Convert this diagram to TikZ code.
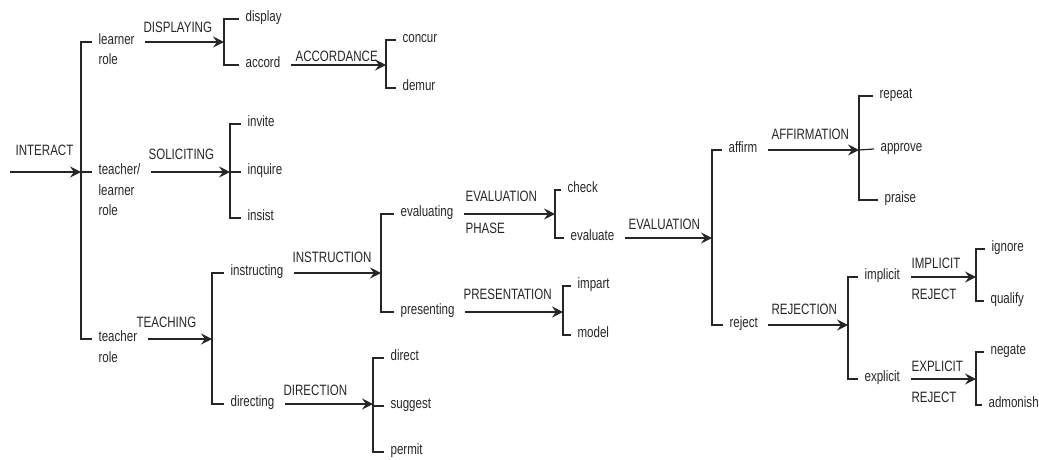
\documentclass[tikz,border=0pt]{standalone}
\usepackage{fontspec}
\setmainfont[FakeStretch=0.77]{Liberation Sans}
\usepackage{tikz}
\usetikzlibrary{arrows.meta}
\tikzset{
	txt/.style={anchor=mid west, inner sep=3pt},
	lbl/.style={anchor=west, inner sep=0pt},
	arr/.style={-{Stealth[length=11pt,width=11pt,inset=4pt]}, shorten <=7pt},
	brk/.style={shorten <=3pt, shorten >=3pt}
}

\begin{document}
\begin{tikzpicture}[x=1pt,y=-1pt,line width=1.2pt,draw=black!85,text=black!85,font=\fontsize{15pt}{18pt}\selectfont]
						\useasboundingbox (0,0) rectangle (1039,459);
						% spines
						\coordinate (in) at (10,172); \coordinate (root) at (81,172);
						\coordinate (dsp) at (224,43); \coordinate (acc) at (386,65); \coordinate (sol) at (230,172);
						\coordinate (tchB) at (212,339); \coordinate (ins) at (381,273); \coordinate (dir) at (373,406);
						\coordinate (evp) at (555,214); \coordinate (pre) at (563,312); \coordinate (eva) at (712,238);
						\coordinate (aff) at (859,150); \coordinate (rej) at (848,325);
						\coordinate (imp) at (976,277); \coordinate (exp) at (976,379);
						% texts
						\node[txt] (lrn) at (95,42) {learner}; \node[txt] (lrnB) at (95,62) {role};
						\node[txt] (tl) at (95,172) {teacher/}; \node[txt] (tlB) at (95,193) {learner}; \node[txt] (tlC) at (95,213) {role};
						\node[txt] (tch) at (95,339) {teacher}; \node[txt] (tchR) at (95,360) {role};
						\node[txt] (display) at (242,19) {display}; \node[txt] (accord) at (242,65) {accord};
						\node[txt] (concur) at (399,40) {concur}; \node[txt] (demur) at (399,88) {demur};
						\node[txt] (invite) at (244,124) {invite}; \node[txt] (inquire) at (244,172) {inquire}; \node[txt] (insist) at (244,218) {insist};
						\node[txt] (instructing) at (227,273) {instructing}; \node[txt] (directing) at (227,404) {directing};
						\node[txt] (evaluating) at (397,214) {evaluating}; \node[txt] (presenting) at (397,312) {presenting};
						\node[txt] (direct) at (387,358) {direct}; \node[txt] (suggest) at (387,406) {suggest}; \node[txt] (permit) at (387,452) {permit};
						\node[txt] (check) at (564,190) {check}; \node[txt] (evaluate) at (567,238) {evaluate};
						\node[txt] (impart) at (574,286) {impart}; \node[txt] (model) at (574,335) {model};
						\node[txt] (affirm) at (725,150) {affirm}; \node[txt] (reject) at (726,325) {reject};
						\node[txt] (repeat) at (876,96) {repeat}; \node[txt] (approve) at (877,149) {approve}; \node[txt] (praise) at (881,200) {praise};
						\node[txt] (implicit) at (861,277) {implicit}; \node[txt] (explicit) at (861,379) {explicit};
						\node[txt] (ignore) at (988,249) {ignore}; \node[txt] (qualify) at (987,301) {qualify};
						\node[txt] (negate) at (987,352) {negate}; \node[txt] (admonish) at (985,405) {admonish};
						% labels
						\node[lbl] (lInteract) at (15,150) {INTERACT};
						\node[lbl] (lDisplaying) at (143,27) {DISPLAYING};
						\node[lbl] (lAccordance) at (295,56) {ACCORDANCE};
						\node[lbl] (lSoliciting) at (148,154) {SOLICITING};
						\node[lbl] (lTeaching) at (136,322) {TEACHING};
						\node[lbl] (lInstruction) at (292,257) {INSTRUCTION};
						\node[lbl] (lDirection) at (283,390) {DIRECTION};
						\node[lbl] (lEvalPhase) at (465,196) {EVALUATION}; \node[lbl] (lPhase) at (465,228) {PHASE};
						\node[lbl] (lPresentation) at (463,294) {PRESENTATION};
						\node[lbl] (lEvaluation) at (628,224) {EVALUATION};
						\node[lbl] (lAffirmation) at (771,134) {AFFIRMATION};
						\node[lbl] (lRejection) at (771,309) {REJECTION};
						\node[lbl] (lImplicit) at (911,263) {IMPLICIT}; \node[lbl] (lImpReject) at (911,294) {REJECT};
						\node[lbl] (lExplicit) at (911,366) {EXPLICIT}; \node[lbl] (lExpReject) at (911,397) {REJECT};
						% arrows
						\draw[arr, shorten <=0pt] (in) -- (root);
						\draw[arr] (lrn.mid east) -- (lrn.mid east -| dsp);
						\draw[arr] (accord.mid east) -- (accord.mid east -| acc);
						\draw[arr] (tl.mid east) -- (tl.mid east -| sol);
						\draw[arr] (tch.mid east) -- (tch.mid east -| tchB);
						\draw[arr] (instructing.mid east) -- (instructing.mid east -| ins);
						\draw[arr] (directing.mid east) -- (directing.mid east -| dir);
						\draw[arr] (evaluating.mid east) -- (evaluating.mid east -| evp);
						\draw[arr] (presenting.mid east) -- (presenting.mid east -| pre);
						\draw[arr] (evaluate.mid east) -- (evaluate.mid east -| eva);
						\draw[arr] (affirm.mid east) -- (affirm.mid east -| aff);
						\draw[arr] (reject.mid east) -- (reject.mid east -| rej);
						\draw[arr] (implicit.mid east) -- (implicit.mid east -| imp);
						\draw[arr] (explicit.mid east) -- (explicit.mid east -| exp);
						% brackets
						\draw[brk] (lrn.mid west) -| (root) |- (tch.mid west); \draw (root) -- ([xshift=-3pt]tl.mid west);
						\draw[brk] (display.mid west) -| (dsp) |- (accord.mid west);
						\draw[brk] (concur.mid west) -| (acc) |- (demur.mid west);
						\draw[brk] (invite.mid west) -| (sol) |- (insist.mid west); \draw (sol) -- ([xshift=-3pt]inquire.mid west);
						\draw[brk] (instructing.mid west) -| (tchB) |- (directing.mid west);
						\draw[brk] (evaluating.mid west) -| (ins) |- (presenting.mid west);
						\draw[brk] (direct.mid west) -| (dir) |- (permit.mid west); \draw (dir) -- ([xshift=-3pt]suggest.mid west);
						\draw[brk] (check.mid west) -| (evp) |- (evaluate.mid west);
						\draw[brk] (impart.mid west) -| (pre) |- (model.mid west);
						\draw[brk] (affirm.mid west) -| (eva) |- (reject.mid west);
						\draw[brk] (repeat.mid west) -| (aff) |- (praise.mid west); \draw (aff) -- ([xshift=-3pt]approve.mid west);
						\draw[brk] (implicit.mid west) -| (rej) |- (explicit.mid west);
						\draw[brk] (ignore.mid west) -| (imp) |- (qualify.mid west);
						\draw[brk] (negate.mid west) -| (exp) |- (admonish.mid west);
					\end{tikzpicture}
\end{document}
